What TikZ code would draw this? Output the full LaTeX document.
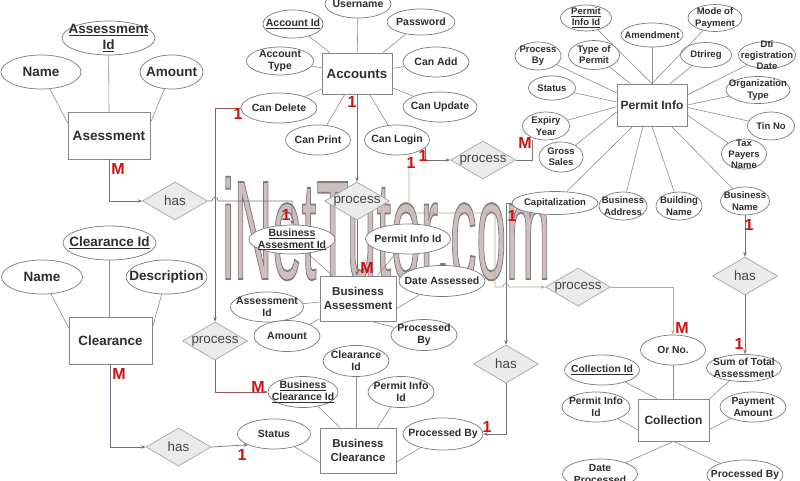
\documentclass[tikz,border=0pt]{standalone}
\usepackage{fontspec}
\setmainfont{Liberation Sans}
\usepackage{graphicx}
\usetikzlibrary{shapes.geometric,arrows.meta}
\definecolor{elc}{HTML}{7A7A7A}
\definecolor{boxc}{HTML}{858585}
\definecolor{linc}{HTML}{8E8E8E}
\definecolor{relc}{HTML}{6E7580}
\definecolor{redc}{HTML}{A85454}
\definecolor{olvc}{HTML}{B5AE8C}
\definecolor{diaf}{HTML}{EBEBEB}
\definecolor{diac}{HTML}{A5A5A5}
\definecolor{txtc}{HTML}{2E2E2E}
\definecolor{dtxc}{HTML}{444444}
\definecolor{cardc}{HTML}{CC1111}
\definecolor{wmc}{HTML}{CDBFBF}
\newcommand\eatt[6]{\node[ell={#4}{#5}, label={[atxt,#6]center:#2}] (#1) at (#3) {};}
\newcommand\wmtext{\special{pdf:literal 2 Tr 1.8 w 0.52 0.47 0.47 RG}\scalebox{0.376}[1]{iNetTutor.com}\special{pdf:literal 0 Tr}}
\begin{document}
\begin{tikzpicture}[x=1pt,y=-1pt,
  ell/.style 2 args={ellipse, draw=elc, fill=white, line width=0.7pt, minimum width=#1pt, minimum height=#2pt, inner sep=0pt},
  atxt/.style={align=center, text=txtc, inner sep=0pt},
  fL/.style={font=\fontsize{13.5}{15.5}\selectfont\bfseries},
  fA/.style={font=\fontsize{10.5}{12.3}\selectfont\bfseries},
  fP/.style={font=\fontsize{9.5}{11.2}\selectfont\bfseries},
  fB/.style={font=\fontsize{10.5}{11.8}\selectfont\bfseries},
  fC/.style={font=\fontsize{10.3}{11.8}\selectfont\bfseries},
  ent/.style={draw=boxc, fill=white, line width=0.8pt, inner sep=0pt, align=center, text=txtc},
  dia/.style={diamond, draw=diac, fill=diaf, line width=0.7pt, minimum width=65pt, minimum height=38pt, inner sep=0pt},
  dtxt/.style={text=dtxc, inner sep=0pt, font=\fontsize{13.4}{14}\selectfont},
  card/.style={text=cardc, inner sep=0pt, font=\fontsize{16}{16}\selectfont\bfseries},
  wmk/.style={anchor=base west, inner sep=0pt, font=\fontsize{141}{141}\selectfont},
  al/.style={draw=linc, line width=0.6pt},
  tip/.style={-{Stealth[length=4.5pt,width=3.5pt]}},
  rel/.style={draw=relc, line width=0.7pt, tip},
  reln/.style={draw=relc, line width=0.7pt},
  redl/.style={draw=redc, line width=0.7pt, tip},
  olv/.style={draw=olvc, line width=0.7pt, tip}
]
\useasboundingbox (0,0) rectangle (800,480);
\fill[white] (0,0) rectangle (800,480);
% watermark (filled and outlined text)
\node[wmk, text=wmc] (wm) at (222,279) {\wmtext};

% ---------- Asessment ----------
\eatt{aid}{\underline{Assessment}\\\underline{Id}}{108.5,38}{93}{34}{fL}
\eatt{aname}{Name}{41,72}{80}{34}{fL}
\eatt{aamt}{Amount}{171.5,72}{63}{34}{fL}
\node[ent, minimum width=82pt, minimum height=47pt, font=\fontsize{13.6}{16}\selectfont\bfseries] (ases) at (109,135.5) {Asessment};

% ---------- Clearance ----------
\eatt{cid}{\underline{Clearance Id}}{109.5,243}{93}{34}{fL}
\eatt{cname}{Name}{42,277}{81}{34}{fL}
\eatt{cdesc}{Description}{166.5,277}{81}{34}{fL}
\node[ent, minimum width=83pt, minimum height=47pt, font=\fontsize{13.4}{16}\selectfont\bfseries] (clr) at (110.5,340.5) {Clearance};

% ---------- Accounts ----------
\eatt{user}{Username}{358,4}{66}{28}{fA}
\eatt{accid}{\underline{Account Id}}{293,24}{60}{28}{fA}
\eatt{pass}{Password}{421,22}{68}{26}{fA}
\eatt{acct}{Account\\Type}{280,61}{67}{28}{fA}
\eatt{cadd}{Can Add}{436,62}{66}{30}{fA}
\eatt{cdel}{Can Delete}{279,108}{76}{30}{fA}
\eatt{cupd}{Can Update}{440,107}{74}{30}{fA}
\eatt{cprint}{Can Print}{318,140}{65}{30}{fA}
\eatt{clog}{Can Login}{397,140}{65}{30}{fA}
\node[ent, minimum width=70pt, minimum height=41pt, font=\fontsize{13.3}{16}\selectfont\bfseries] (acc) at (357,73.5) {Accounts};

% ---------- Permit Info ----------
\eatt{pii}{\underline{Permit}\\\underline{Info Id}}{586,18}{51}{26}{fP}
\eatt{mop}{Mode of\\Payment}{715,18}{54}{27}{fP}
\eatt{amend}{Amendment}{652,35}{62}{24}{fP}
\eatt{top}{Type of\\Permit}{594,55}{51}{29}{fP}
\eatt{procby}{Process\\By}{538,56}{46}{28}{fP}
\eatt{dtri}{Dtrireg}{706,55}{51}{25}{fP}
\eatt{dti}{Dti\\registration\\Date}{767,55}{57}{27}{fP}
\eatt{pstat}{Status}{552,88}{47}{24}{fP}
\eatt{org}{Organization\\Type}{758,90}{64}{27}{fP}
\eatt{exp}{Expiry\\Year}{546,126}{47}{28}{fP}
\eatt{tin}{Tin No}{771,126}{47}{28}{fP}
\eatt{gross}{Gross\\Sales}{561,157}{44}{30}{fP}
\eatt{tax}{Tax\\Payers\\Name}{744,154}{45}{30}{fP}
\eatt{cap}{Capitalization}{555,203}{86}{23}{fP}
\eatt{baddr}{Business\\Address}{623,206}{48}{28}{fP}
\eatt{bldg}{Building\\Name}{679,206}{46}{28}{fP}
\eatt{bname}{Business\\Name}{745,201}{49}{28}{fP}
\node[ent, minimum width=70pt, minimum height=42pt, font=\fontsize{12}{14}\selectfont\bfseries] (pi) at (652,105) {Permit Info};

% ---------- Business Assessment ----------
\eatt{bai}{\underline{Business}\\\underline{Assesment Id}}{292,239.5}{86}{29}{fB}
\eatt{bapii}{Permit Info Id}{408,239}{85}{30}{fB}
\eatt{dass}{Date Assessed}{442,281}{86}{31}{fB}
\eatt{baaid}{Assessment\\Id}{267,307}{73}{30}{fB}
\eatt{baamt}{Amount}{287,336}{66}{31}{fB}
\eatt{bapb}{Processed\\By}{424,335}{66}{31}{fB}
\node[ent, minimum width=76pt, minimum height=45pt, font=\fontsize{11.6}{14.3}\selectfont\bfseries] (ba) at (358,298.5) {Business\\Assessment};

% ---------- Business Clearance ----------
\eatt{bccid}{Clearance\\Id}{356,361}{66}{31}{fB}
\eatt{bcpii}{Permit Info\\Id}{401,392}{66}{31}{fB}
\eatt{bcid}{\underline{Business}\\\underline{Clearance Id}}{303,392}{70}{31}{fB}
\eatt{bcst}{Status}{274,434}{73}{30}{fB}
\eatt{bcpb}{Processed By}{443,434}{80}{32}{fB}
\node[ent, minimum width=76pt, minimum height=45pt, font=\fontsize{11.5}{14}\selectfont\bfseries] (bc) at (358,450.5) {Business\\Clearance};

% ---------- Collection ----------
\eatt{orno}{Or No.}{673,350}{65}{30}{fC}
\eatt{sum}{Sum of Total\\Assessment}{744,368}{75}{27}{fC}
\eatt{colid}{\underline{Collection Id}}{602,370}{75}{30}{fC}
\eatt{cpii}{Permit Info\\Id}{596,407}{68}{30}{fC}
\eatt{pamt}{Payment\\Amount}{753,407}{66}{30}{fC}
\eatt{dproc}{Date\\Processed}{600,474}{75}{30}{fC}
\eatt{cpb}{Processed By}{745,475}{76}{30}{fC}
\node[ent, minimum width=71pt, minimum height=42pt, font=\fontsize{12}{14}\selectfont\bfseries] (coll) at (673.5,420) {Collection};

% ---------- relationships ----------
\node[dia, label={[dtxt]center:process}] (p1) at (357,201) {};
\node[dia, label={[dtxt]center:process}] (p2) at (215,341) {};
\node[dia, label={[dtxt]center:process}] (p3) at (483,160) {};
\node[dia, label={[dtxt]center:process}] (p4) at (578,287) {};
\node[dia, label={[dtxt]center:has}] (h1) at (175,201) {};
\node[dia, label={[dtxt]center:has}] (h2) at (178.5,447) {};
\node[dia, label={[dtxt]center:has}] (h3) at (506,364) {};
\node[dia, label={[dtxt]center:has}] (h4) at (745,276) {};

\coordinate (hopA) at (215,201);
\coordinate (hopB) at (506,287);
\coordinate (olA) at (495,213);
\coordinate (m3end) at (532,140);

% ---------- attribute lines ----------
\foreach \a/\b in {aid/ases.north, aname/ases.163, aamt/ases.17,
                   cname/clr.163, cdesc/clr.17}
  \draw[al] (\a) -- (\b);
\draw[al] (cid) -- (cid |- clr.north);
\foreach \a in {user,accid,pass,acct,cadd,cdel,cupd,cprint,clog}
  \draw[al] (\a) -- (acc);
\foreach \a/\b in {pii/pi.north, mop/pi.north, amend/pi.north, top/pi.135, dtri/pi.50,
                   procby/pi.161, pstat/pi.175, exp/pi.183, gross/pi.191, cap/pi.228,
                   baddr/pi.247, bldg/pi.south, bname/pi.-48, tax/pi.-16, tin/pi.-4,
                   org/pi.0, dti/pi.16}
  \draw[al] (\a) -- (\b);
\foreach \a/\b in {bai/ba, bapii/ba, dass/ba.-15, baaid/ba, baamt/ba, bapb/ba.-60,
                   bcid/bc.128, bcpii/bc.50, bcst/bc.197, bcpb/bc.-17,
                   colid/coll.128, sum/coll.north east, cpii/coll.195, pamt/coll.-15,
                   dproc/coll.south, cpb/coll.south}
  \draw[al] (\a) -- (\b);
\draw[al] (bccid) -- (bccid |- bc.north);
\draw[al] (orno) -- (orno |- coll.north);

% ---------- relationship connectors ----------
\draw[rel] (acc.south) -- (p1.north);
\draw[rel] (p1.south) -- (p1.south |- ba.north);
\draw[redl] (cdel.west) -| (p2.north);
\draw[redl] (p2.south) |- (bcid.west);
\draw[rel] (ases.south) |- (h1.west);
\draw[rel] (h1.east) -- ([xshift=-3pt]hopA) .. controls +(0,-5) and +(0,-5) .. ([xshift=3pt]hopA) -| (bai.north);
\draw[rel] (clr.south) |- (h2.west);
\draw[rel] (h2.east) -- (bcst.south west);
\draw[rel] (clog.-15) |- (p3.west);
\draw[reln] (p3.east) -| (m3end);
\draw[olv] (clog.-50) |- (olA) |- ([xshift=-3pt]hopB) .. controls +(0,-5) and +(0,-5) .. ([xshift=3pt]hopB) -- (p4.west);
\draw[olv] (p4.east) -| (orno.north);
\draw[rel] (cap.west) -| (h3.north);
\draw[rel] (h3.south) |- (bcpb.east);
\draw[rel] (bname.south) -- (h4.north);
\draw[rel] (h4.south) -- (h4.south |- sum.north);

% ---------- cardinalities ----------
\node[card] (m1) at (118,169) {M};
\node[card] (o1) at (238,114) {1};
\node[card] (o2) at (352,102) {1};
\node[card] (o3) at (286,215) {1};
\node[card] (m2) at (367,268) {M};
\node[card] (o4) at (423,156) {1};
\node[card] (o5) at (411,163) {1};
\node[card] (m3) at (525,143) {M};
\node[card] (o6) at (512,216) {1};
\node[card] (o7) at (749,225) {1};
\node[card] (m4) at (682,328) {M};
\node[card] (o8) at (739,344) {1};
\node[card] (m5) at (119,374) {M};
\node[card] (m6) at (258,387) {M};
\node[card] (o9) at (242,455) {1};
\node[card] (o10) at (487,427) {1};
\end{tikzpicture}
\end{document}
